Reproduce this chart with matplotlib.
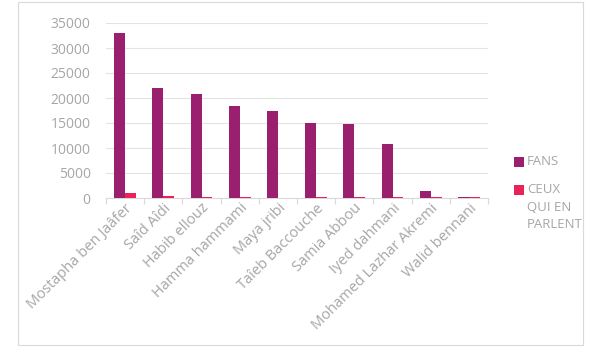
import matplotlib
matplotlib.use("Agg")
import matplotlib.pyplot as plt
import numpy as np
from matplotlib.patches import Rectangle

categories = ["Mostapha ben Jaâfer", "Saîd Aîdi", "Habib ellouz", "Hamma hammami",
              "Maya jribi", "Taîeb Baccouche", "Samia Abbou", "Iyed dahmani",
              "Mohamed Lazhar Akremi", "Walid bennani"]
fans = [33000, 22100, 20750, 18400, 17450, 15100, 14900, 10900, 1450, 250]
parlent = [950, 500, 280, 260, 60, 220, 200, 200, 200, 250]
yticks = [0, 5000, 10000, 15000, 20000, 25000, 30000, 35000]
series_labels = ["FANS", "CEUX\nQUI EN\nPARLENT"]
colors = ["#9B1F6F", "#E8235A"]

plt.rcParams['font.family'] = ['Open Sans', 'DejaVu Sans']
gray = "#A6A6A6"

fig = plt.figure(figsize=(6, 3.53), dpi=100)
fig.patches.append(Rectangle((18/600, 1 - 345/353), (583-18)/600, (345-2)/353,
                             transform=fig.transFigure, fill=False,
                             edgecolor="#D9D9D9", linewidth=0.8))
ax = fig.add_axes([106/600, 1 - 198/353, (488-106)/600, (198-23)/353])

x = np.arange(len(categories))
w = 0.285
ax.bar(x - w/2, fans, w, color=colors[0], zorder=3)
ax.bar(x + w/2, parlent, w, color=colors[1], zorder=3)

ax.set_xlim(-0.5, len(categories) - 0.5)
ax.set_ylim(0, 35000)
ax.set_yticks(yticks)
ax.set_yticklabels([str(v) for v in yticks], color=gray, fontsize=10)
ax.yaxis.grid(True, color="#E3E3E3", linewidth=0.8, zorder=0)
ax.tick_params(axis='y', length=0, pad=11)
ax.set_xticks(x)
ax.set_xticklabels(categories, rotation=45, ha='right', va='top',
                   rotation_mode='anchor', color=gray, fontsize=10.5)
ax.tick_params(axis='x', length=0, pad=2)
ax.set_xticks(np.arange(-0.5, len(categories) + 0.5, 1), minor=True)
ax.tick_params(axis='x', which='minor', length=4, color="#D9D9D9", width=0.8)
for s in ['top', 'right', 'left']:
    ax.spines[s].set_visible(False)
ax.spines['bottom'].set_color("#D9D9D9")
ax.spines['bottom'].set_linewidth(0.8)

# legend (handle aligned with first text line, as in the original)
leg_y = [162, 190]
for lbl, col, yy in zip(series_labels, colors, leg_y):
    fig.patches.append(Rectangle((514/600, 1 - (yy + 5)/353), 10/600, 10/353,
                                 transform=fig.transFigure, facecolor=col,
                                 edgecolor='none'))
    fig.text(527/600, 1 - (yy - 7)/353, lbl, color=gray, fontsize=9.5,
             va='top', ha='left', linespacing=1.45)

fig.savefig("out.png", dpi=100)
